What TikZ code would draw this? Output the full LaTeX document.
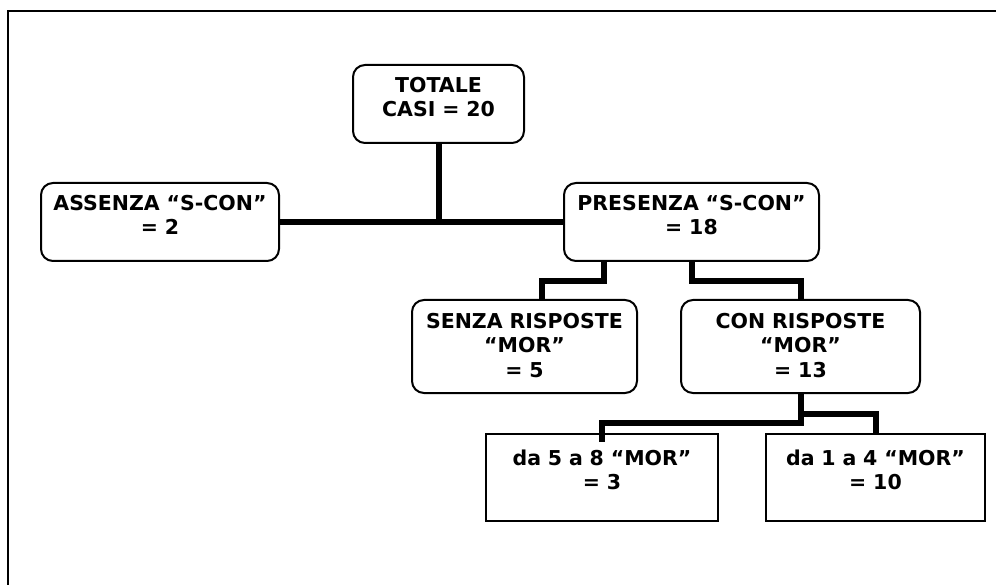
\documentclass[tikz,border=0pt]{standalone}
\usepackage{fontspec}
\setmainfont{DejaVu Sans}
\usetikzlibrary{positioning}

\tikzset{
	rbox/.style={draw, line width=2pt, rounded corners=12pt, fill=white, text width=#1, align=center, inner sep=0pt, font=\bfseries\fontsize{20.5}{24}\selectfont},
	sbox/.style={draw, line width=2pt, fill=white, text width=#1, align=center, inner sep=0pt, font=\bfseries\fontsize{20.5}{24}\selectfont},
	link/.style={line width=6pt},
	frame/.style={line width=2.5pt}
}

\begin{document}
\begin{tikzpicture}[x=1pt, y=-1pt]
	\useasboundingbox (0,0) rectangle (996,585);
	\draw[frame] (8,585) |- (996,11);

	\node[rbox=171pt, text height=28pt, text depth=50pt] (tot) at (438.5,104) {TOTALE\\CASI = 20};
	\node[rbox=238pt, text height=28pt, text depth=50pt] (ass) at (160,222) {ASSENZA “S-CON”\\= 2};
	\node[rbox=255pt, text height=28pt, text depth=50pt, right=283pt of ass] (pres) {PRESENZA “S-CON”\\= 18};

	\node[rbox=225pt, text height=29pt, text depth=64pt] (senza) at (524.5,346.5) {SENZA RISPOSTE\\“MOR”\\= 5};
	\node[rbox=239pt, text height=29pt, text depth=64pt, right=42pt of senza] (con) {CON RISPOSTE\\“MOR”\\= 13};

	\node[sbox=232pt, text height=31pt, text depth=56pt] (lo) at (602,477.5) {da 5 a 8 “MOR”\\= 3};
	\node[sbox=219pt, text height=31pt, text depth=56pt, right=46pt of lo] (hi) {da 1 a 4 “MOR”\\= 10};

	\draw[link] (tot.south) -- (tot.south |- ass.east);
	\draw[link] (ass.east) -- (pres.west);
	\draw[link] ([xshift=-87.5pt]pres.south) -- ++(0,19) -| ([xshift=17.5pt]senza.north);
	\draw[link] (pres.south) -- ++(0,19) -| (con.north);
	\draw[link] (con.south) -- ++(0,29) -| ([yshift=-9pt]lo.north);
	\draw[link] (con.south) -- ++(0,20) -| (hi.north);
\end{tikzpicture}
\end{document}
